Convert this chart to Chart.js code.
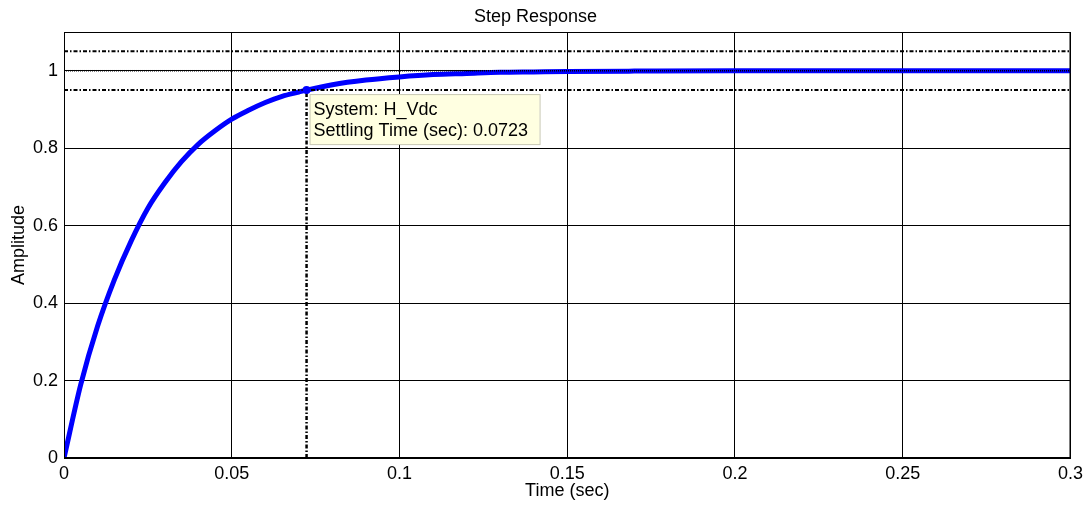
<!DOCTYPE html>
<html>
<head>
<meta charset="utf-8">
<script src="https://cdn.jsdelivr.net/npm/chart.js@4"></script>
<style>
  html, body { margin: 0; padding: 0; background: #fff; }
  #wrap { width: 1088px; height: 506px; }
</style>
</head>
<body>
<div id="wrap"><canvas id="stepChart" width="1088" height="506"></canvas></div>
<script>
// step response
var timeValues = [0, 0.005, 0.01, 0.015, 0.02, 0.025, 0.03, 0.035, 0.04, 0.045, 0.05, 0.055, 0.06, 0.065, 0.07, 0.0723, 0.08, 0.09, 0.1, 0.11, 0.12, 0.13, 0.14, 0.15, 0.17, 0.2, 0.25, 0.3];
var amplitude  = [0, 0.19, 0.34, 0.46, 0.56, 0.645, 0.71, 0.765, 0.81, 0.845, 0.875, 0.898, 0.918, 0.934, 0.945, 0.95, 0.964, 0.976, 0.984, 0.99, 0.993, 0.996, 0.997, 0.998, 0.999, 1, 1, 1];

var xTicks = [0, 0.05, 0.1, 0.15, 0.2, 0.25, 0.3];
var yTicks = [0, 0.2, 0.4, 0.6, 0.8, 1];

var finalValue = 1;
var upperBand = 1.05;
var lowerBand = 0.95;
var settleTime = 0.0723;
var settleAmp = 0.95;
var systemName = 'H_Vdc';

var FONT = '"Liberation Sans", Arial, sans-serif';

function pts(xs, ys) {
    return xs.map(function (x, i) { return { x: x, y: ys[i] }; });
}

var dashDot = [4, 2, 1.5, 2];

// box round the plot, data tip
var extras = {
    id: 'extras',
    afterDraw: function (chart) {
        var ctx = chart.ctx;
        var a = chart.chartArea;
        ctx.save();
        ctx.strokeStyle = '#000';
        ctx.lineWidth = 1;
        ctx.strokeRect(a.left + 0.5, a.top + 0.5, a.right - a.left - 1, a.bottom - a.top - 1);

        var px = chart.scales.x.getPixelForValue(settleTime);
        var py = chart.scales.y.getPixelForValue(settleAmp);
        ctx.fillStyle = '#0000ff';
        ctx.beginPath();
        ctx.arc(px, py, 4, 0, Math.PI * 2);
        ctx.fill();

        var bx = px + 3, by = py + 4, bw = 230, bh = 50;
        ctx.fillStyle = '#ffffe1';
        ctx.fillRect(bx, by, bw, bh);
        ctx.strokeStyle = '#c8c8b4';
        ctx.strokeRect(bx + 0.5, by + 0.5, bw, bh);
        ctx.fillStyle = '#000';
        ctx.font = '18px ' + FONT;
        ctx.textBaseline = 'middle';
        ctx.fillText('System: ' + systemName, bx + 4, by + 16);
        ctx.fillText('Settling Time (sec): ' + settleTime, bx + 4, by + 37);
        ctx.restore();
    }
};

var ctx = document.getElementById('stepChart').getContext('2d');
var stepChart = new Chart(ctx, {
    type: 'scatter',
    data: {
        datasets: [
            {
                data: pts([0, 0.3], [upperBand, upperBand]),
                showLine: true, borderColor: '#000', borderWidth: 2,
                borderDash: dashDot, pointRadius: 0
            },
            {
                data: pts([0, 0.3], [lowerBand, lowerBand]),
                showLine: true, borderColor: '#000', borderWidth: 2,
                borderDash: dashDot, pointRadius: 0
            },
            {
                data: pts([0, 0.3], [finalValue, finalValue]),
                showLine: true, borderColor: '#000', borderWidth: 1.5,
                borderDash: [1, 1], pointRadius: 0
            },
            {
                data: pts([settleTime, settleTime], [0, settleAmp]),
                showLine: true, borderColor: '#000', borderWidth: 2.5,
                borderDash: dashDot, pointRadius: 0
            },
            {
                data: pts(timeValues, amplitude),
                showLine: true, borderColor: '#0000ff', borderWidth: 5,
                pointRadius: 0, cubicInterpolationMode: 'monotone'
            }
        ]
    },
    options: {
        responsive: false,
        animation: false,
        layout: { padding: { right: 17 } },
        plugins: {
            legend: { display: false },
            tooltip: { enabled: false },
            title: {
                display: true,
                text: 'Step Response',
                color: '#000',
                font: { family: FONT, size: 18, weight: 'normal' },
                padding: { top: 6, bottom: 4.4 }
            }
        },
        scales: {
            x: {
                type: 'linear', min: 0, max: 0.3,
                afterFit: function (s) { s.height = 48; },
                afterBuildTicks: function (s) { s.ticks = xTicks.map(function (v) { return { value: v }; }); },
                ticks: {
                    color: '#000', padding: 5, maxRotation: 0,
                    font: { family: FONT, size: 18 },
                    callback: function (v) { return String(v); }
                },
                grid: { color: '#000', lineWidth: 1, drawTicks: false },
                border: { color: '#000' },
                title: {
                    display: true, text: 'Time (sec)', color: '#000',
                    font: { family: FONT, size: 18 },
                    padding: { top: 0, bottom: 4 }
                }
            },
            y: {
                type: 'linear', min: 0, max: 1.1,
                afterFit: function (s) { s.width = 64; },
                afterBuildTicks: function (s) { s.ticks = yTicks.map(function (v) { return { value: v }; }); },
                ticks: {
                    color: '#000', padding: 6,
                    font: { family: FONT, size: 18 },
                    callback: function (v) { return String(v); }
                },
                grid: { color: '#000', lineWidth: 1, drawTicks: false },
                border: { color: '#000' },
                title: {
                    display: true, text: 'Amplitude', color: '#000',
                    font: { family: FONT, size: 18 },
                    padding: { top: 8, bottom: 0 }
                }
            }
        }
    },
    plugins: [extras]
});
</script>
</body>
</html>
